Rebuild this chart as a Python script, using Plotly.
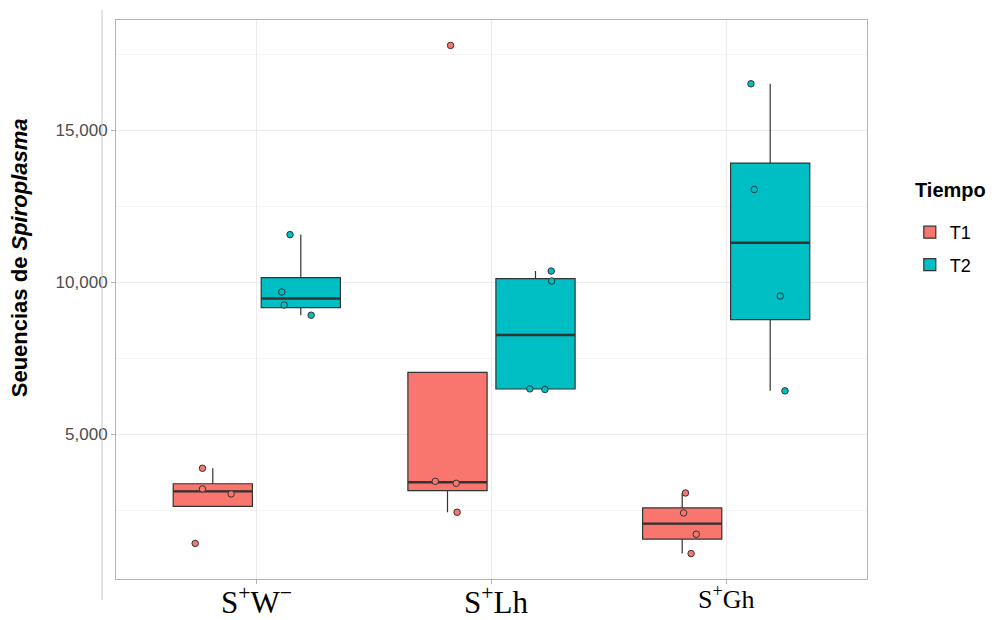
import numpy as np
import plotly.graph_objects as go

# ---- data ----
categories = ["S+W-", "S+Lh", "S+Gh"]
x_labels = [
    "S<sup>+</sup>W<sup>−</sup>",
    "S<sup>+</sup>Lh",
    "S<sup>+</sup>Gh",
]
x_label_sizes = [31, 31, 26]
groups = ["T1", "T2"]
group_colors = ["#F8766D", "#00BFC4"]

t1_sw = [3876, 3196, 3032, 1402]
t1_lh = [17788, 3446, 3381, 2428]
t1_gh = [3062, 2405, 1705, 1068]
t2_sw = [11563, 9674, 9248, 8911]
t2_lh = [10364, 10036, 6488, 6468]
t2_gh = [16526, 13048, 9543, 6422]

# horizontal jitter of each point (category units)
jit_t1_sw = [-0.044, -0.044, 0.078, -0.075]
jit_t1_lh = [0.013, -0.052, 0.037, 0.041]
jit_t1_gh = [0.014, 0.006, 0.060, 0.038]
jit_t2_sw = [-0.046, -0.081, -0.071, 0.044]
jit_t2_lh = [0.067, 0.069, -0.024, 0.040]
jit_t2_gh = [-0.082, -0.068, 0.043, 0.063]

values = {"T1": [t1_sw, t1_lh, t1_gh], "T2": [t2_sw, t2_lh, t2_gh]}
jitters = {"T1": [jit_t1_sw, jit_t1_lh, jit_t1_gh], "T2": [jit_t2_sw, jit_t2_lh, jit_t2_gh]}

y_ticks = [5000, 10000, 15000]
y_minor = [2500, 7500, 12500, 17500]

# ---- styling ----
dodge = 0.1875
box_w = 0.3375
edge = "#333333"
label_xshift = [0, 4, 0]

fig = go.Figure()


def box_stats(v):
    v = np.asarray(v, dtype=float)
    q1, med, q3 = np.percentile(v, [25, 50, 75])
    iqr = q3 - q1
    lf = v[v >= q1 - 1.5 * iqr].min()
    uf = v[v <= q3 + 1.5 * iqr].max()
    return q1, med, q3, min(lf, q1), max(uf, q3)


for gi, g in enumerate(groups):
    off = -dodge if gi == 0 else dodge
    for ci in range(len(categories)):
        pos = ci + 1 + off
        q1, med, q3, lf, uf = box_stats(values[g][ci])
        fig.add_trace(go.Box(
            x=[pos], q1=[q1], median=[med], q3=[q3],
            lowerfence=[lf], upperfence=[uf],
            width=box_w, whiskerwidth=0, boxpoints=False,
            fillcolor=group_colors[gi], line=dict(color=edge, width=1.2),
            name=g, legendgroup=g, showlegend=(ci == 0), hoverinfo="skip",
        ))
        fig.add_trace(go.Scatter(
            x=[pos - box_w / 2, pos + box_w / 2], y=[med, med], mode="lines",
            line=dict(color=edge, width=2.4), showlegend=False, hoverinfo="skip",
        ))

for gi, g in enumerate(groups):
    off = -dodge if gi == 0 else dodge
    for ci in range(len(categories)):
        pos = ci + 1 + off
        fig.add_trace(go.Scatter(
            x=[pos + j for j in jitters[g][ci]], y=values[g][ci], mode="markers",
            marker=dict(size=6.5, color=group_colors[gi], line=dict(color=edge, width=1)),
            showlegend=False, hoverinfo="skip",
        ))

all_vals = [x for g in groups for s in values[g] for x in s]
lo, hi = min(all_vals), max(all_vals)
pad = 0.05 * (hi - lo)

annotations = [
    dict(text="<b>Tiempo</b>", xref="paper", yref="paper", x=1.061, y=0.696,
         xanchor="left", yanchor="middle", showarrow=False,
         font=dict(size=20, color="black")),
    dict(text="<b>Seuencias de <i>Spiroplasma</i></b>", xref="paper", yref="paper",
         x=-0.129, y=0.574, xanchor="center", yanchor="middle", textangle=-90,
         showarrow=False, font=dict(size=22, color="black")),
]
for ci, lab in enumerate(x_labels):
    annotations.append(dict(
        text=lab, xref="x", yref="paper", x=ci + 1, y=0, xanchor="center",
        yanchor="top", xshift=label_xshift[ci], yshift=0, showarrow=False,
        font=dict(family="Liberation Serif, Times New Roman, serif",
                  size=x_label_sizes[ci], color="black"),
    ))

fig.update_layout(
    width=988, height=612,
    margin=dict(l=108, r=129, t=12, b=41, autoexpand=False),
    paper_bgcolor="white", plot_bgcolor="white",
    font=dict(family="Liberation Sans, Arial, sans-serif", color="#4d4d4d"),
    legend=dict(
        font=dict(size=18, color="black"),
        x=1.057, y=0.653, xanchor="left", yanchor="top",
        tracegroupgap=6, itemwidth=30,
    ),
    annotations=annotations,
    shapes=[dict(
        type="line", xref="paper", yref="paper",
        x0=-0.0186, x1=-0.0186, y0=-0.0376, y1=1.018,
        line=dict(color="#c8c8c8", width=1),
    )],
)

fig.update_xaxes(
    range=[0.4, 3.6], tickmode="array", tickvals=[1, 2, 3], showticklabels=False,
    ticks="outside", ticklen=4, tickcolor="#b3b3b3", automargin=False,
    showgrid=True, gridcolor="#ebebeb", gridwidth=1, zeroline=False,
    showline=True, mirror=True, linecolor="#b3b3b3", linewidth=1,
)
fig.update_yaxes(
    range=[lo - pad, hi + pad], tickmode="array", tickvals=y_ticks,
    tickformat=",", tickfont=dict(size=17, color="#4d4d4d"),
    ticks="outside", ticklen=4, tickcolor="#b3b3b3", automargin=False,
    showgrid=True, gridcolor="#ebebeb", gridwidth=1, zeroline=False,
    minor=dict(tickmode="array", tickvals=y_minor, showgrid=True, gridcolor="#f5f5f5", ticks=""),
    showline=True, mirror=True, linecolor="#b3b3b3", linewidth=1,
)

fig.write_html("out.html")
